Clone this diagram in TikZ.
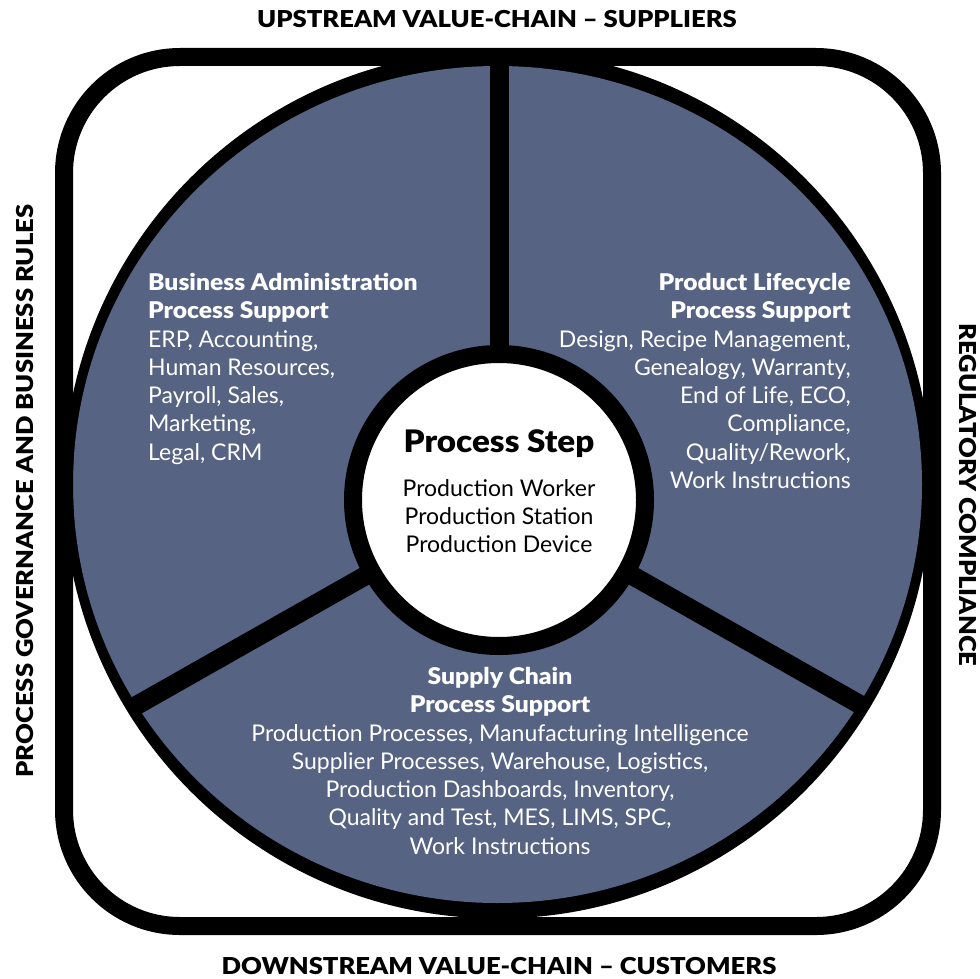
\documentclass[tikz,border=0pt]{standalone}
\usepackage{fontspec}
\setmainfont{Lato}
\newfontfamily\heavyfont{Lato Black}[FakeStretch=1.07]
\newfontfamily\capsfont{Lato Black}[FakeStretch=1.1]
\usetikzlibrary{positioning}
\definecolor{panelblue}{RGB}{86,99,131}

\tikzset{
  rim/.style={line width=18pt},
  divider/.style={line width=19pt},
  hubdisk/.style={circle, fill=white, draw=black, line width=18pt, minimum size=292pt, inner sep=0pt},
  panel/.style={inner sep=0pt, text=white, font=\fontsize{23}{28.3}\selectfont},
  edgelabel/.style={inner sep=0pt, font=\capsfont\fontsize{23.3}{26}\selectfont},
}

\begin{document}
\begin{tikzpicture}[x=1pt,y=-1pt]
\useasboundingbox (0,0) rectangle (980,979);
% disk
\coordinate (c) at (497.5,484.5);
\fill (c) circle[radius=434];
\fill[panelblue] (c) ellipse[x radius=424.5, y radius=418.5];
% dividers
\coordinate (hc) at (499,500);
\coordinate (top) at (499,60);
\coordinate (ll) at (132,708);
\coordinate (lr) at (866,708);
\draw[divider] (hc) -- (top);
\draw[divider] (hc) -- (ll);
\draw[divider] (hc) -- (lr);
\node[hubdisk] (hub) at (hc) {};
% frame
\draw[rim, rounded corners=116] (64,57) rectangle (932,926);
% panels
\node[panel, anchor=north west, align=left] (admin) at (148,273)
  {{\heavyfont Business Administration}\\{\heavyfont Process Support}\\ERP, Accounting,\\Human Resources,\\Payroll, Sales,\\Marketing,\\Legal, CRM};
\node[panel, anchor=north east, align=right] (lifecycle) at (851,273)
  {{\heavyfont Product Lifecycle}\\{\heavyfont Process Support}\\Design, Recipe Management,\\Genealogy, Warranty,\\End of Life, ECO,\\Compliance,\\Quality/Rework,\\Work Instructions};
\node[panel, anchor=north, align=center] (supply) at (500,667)
  {{\heavyfont Supply Chain}\\{\heavyfont Process Support}\\Production Processes, Manufacturing Intelligence\\Supplier Processes, Warehouse, Logistics,\\Production Dashboards, Inventory,\\Quality and Test, MES, LIMS, SPC,\\Work Instructions};
% hub text
\node[inner sep=0pt, anchor=base, font=\heavyfont\fontsize{31}{33}\selectfont] (steptitle) at (499,452) {Process Step};
\node[inner sep=0pt, anchor=north, align=center, font=\fontsize{23}{28.3}\selectfont] (stepitems) at (499,479)
  {Production Worker\\Production Station\\Production Device};
% outside labels
\node[edgelabel] (upstream) at (497,19) {UPSTREAM VALUE-CHAIN – SUPPLIERS};
\node[edgelabel] (downstream) at (499,966) {DOWNSTREAM VALUE-CHAIN – CUSTOMERS};
\node[edgelabel, rotate=90] (governance) at (25,491) {PROCESS GOVERNANCE AND BUSINESS RULES};
\node[edgelabel, rotate=-90] (compliance) at (968,495) {REGULATORY COMPLIANCE};
\end{tikzpicture}
\end{document}
